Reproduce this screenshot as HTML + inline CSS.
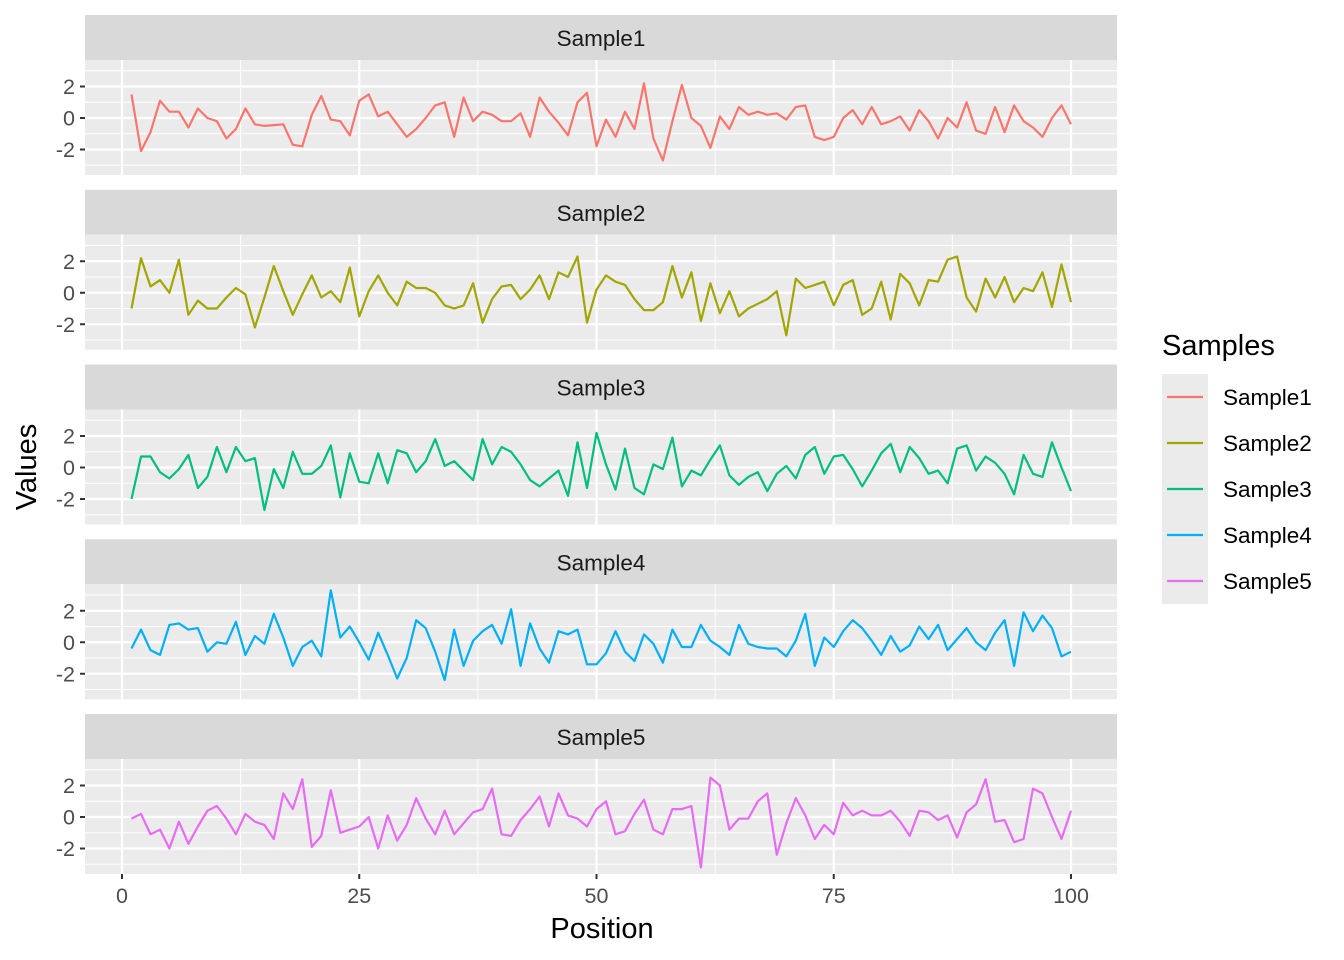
<!DOCTYPE html>
<html><head><meta charset="utf-8"><style>
body{margin:0;background:#fff;}
svg{display:block;font-family:"Liberation Sans",Arial,sans-serif;}
</style></head><body>
<svg id="s" width="1344" height="960" xmlns="http://www.w3.org/2000/svg"></svg>
<script>
const D=[
[1.5,-2.1,-0.9,1.1,0.4,0.4,-0.6,0.6,0,-0.2,-1.3,-0.7,0.6,-0.4,-0.5,-0.45,-0.4,-1.7,-1.8,0.2,1.4,-0.1,-0.2,-1.1,1.1,1.5,0.1,0.4,-0.4,-1.2,-0.7,0,0.8,1.0,-1.2,1.3,-0.2,0.4,0.2,-0.2,-0.2,0.3,-1.2,1.3,0.4,-0.3,-1.1,1.0,1.6,-1.8,-0.1,-1.2,0.4,-0.7,2.2,-1.3,-2.7,-0.2,2.1,0,-0.5,-1.9,0.1,-0.7,0.7,0.2,0.4,0.2,0.3,-0.1,0.7,0.8,-1.2,-1.4,-1.2,0,0.5,-0.4,0.7,-0.4,-0.2,0.1,-0.8,0.5,-0.2,-1.3,0,-0.6,1.0,-0.8,-1.0,0.7,-0.9,0.8,-0.2,-0.6,-1.2,0,0.8,-0.4],
[-1,2.2,0.4,0.8,0,2.1,-1.4,-0.5,-1,-1,-0.3,0.3,-0.1,-2.2,-0.3,1.7,0.1,-1.4,-0.1,1.1,-0.3,0.1,-0.6,1.6,-1.5,0.1,1.1,0,-0.8,0.7,0.3,0.3,0,-0.8,-1,-0.8,0.6,-1.9,-0.4,0.4,0.5,-0.4,0.2,1.1,-0.4,1.3,1,2.3,-1.9,0.2,1.1,0.7,0.5,-0.4,-1.1,-1.1,-0.6,1.7,-0.3,1.3,-1.8,0.6,-1.3,0.1,-1.5,-1,-0.7,-0.4,0.1,-2.7,0.9,0.3,0.5,0.7,-0.8,0.5,0.8,-1.4,-1,0.7,-1.7,1.2,0.6,-0.8,0.8,0.7,2.1,2.3,-0.3,-1.2,0.9,-0.3,1,-0.6,0.3,0.1,1.3,-0.9,1.8,-0.6],
[-2,0.7,0.7,-0.3,-0.7,-0.1,0.8,-1.3,-0.6,1.3,-0.3,1.3,0.4,0.6,-2.7,-0.1,-1.3,1,-0.4,-0.4,0.1,1.4,-1.9,0.9,-0.9,-1,0.9,-1,1.1,0.9,-0.3,0.4,1.8,0.1,0.4,-0.2,-0.8,1.8,0.2,1.3,1,0.2,-0.8,-1.2,-0.7,-0.2,-1.8,1.6,-1.3,2.2,0.2,-1.4,1.2,-1.3,-1.7,0.2,-0.1,1.9,-1.2,-0.2,-0.5,0.5,1.4,-0.5,-1.1,-0.6,-0.3,-1.5,-0.4,0.1,-0.7,0.8,1.3,-0.4,0.7,0.8,-0.1,-1.2,-0.2,0.9,1.5,-0.3,1.3,0.6,-0.4,-0.2,-1,1.2,1.4,-0.2,0.7,0.3,-0.4,-1.7,0.8,-0.4,-0.6,1.6,0,-1.5],
[-0.4,0.8,-0.5,-0.8,1.1,1.2,0.8,0.9,-0.6,0,-0.1,1.3,-0.8,0.4,-0.1,1.8,0.3,-1.5,-0.3,0.1,-0.9,3.3,0.3,1,0,-1.1,0.6,-0.8,-2.3,-1,1.4,0.9,-0.6,-2.4,0.8,-1.5,0.1,0.7,1.1,-0.1,2.1,-1.5,1.2,-0.4,-1.3,0.7,0.5,0.8,-1.4,-1.4,-0.7,0.7,-0.6,-1.2,0.5,-0.1,-1.3,0.8,-0.3,-0.3,1.1,0.1,-0.3,-0.8,1.1,-0.1,-0.3,-0.4,-0.4,-0.9,0.1,1.8,-1.5,0.3,-0.3,0.7,1.4,0.9,0.1,-0.8,0.4,-0.6,-0.2,1,0.2,1.1,-0.5,0.2,0.9,0,-0.5,0.6,1.4,-1.5,1.9,0.7,1.7,0.9,-0.9,-0.6],
[-0.1,0.2,-1.1,-0.8,-2,-0.3,-1.7,-0.6,0.4,0.7,-0.1,-1.1,0.2,-0.3,-0.5,-1.4,1.5,0.5,2.4,-1.9,-1.2,1.7,-1,-0.8,-0.6,0,-2,0.1,-1.5,-0.5,1.2,-0.1,-1.1,0.4,-1.1,-0.4,0.3,0.5,1.8,-1.1,-1.2,-0.2,0.5,1.3,-0.6,1.5,0.1,-0.1,-0.6,0.5,1,-1.1,-0.9,0.2,1.1,-0.8,-1.1,0.5,0.5,0.7,-3.2,2.5,2,-0.8,-0.1,-0.1,1,1.5,-2.4,-0.4,1.2,0.1,-1.4,-0.5,-1.1,0.9,0.1,0.4,0.1,0.1,0.4,-0.3,-1.2,0.4,0.3,-0.2,0.1,-1.3,0.3,0.8,2.4,-0.3,-0.2,-1.6,-1.4,1.8,1.5,0,-1.4,0.4]];
const C=["#F8766D","#A3A500","#00BF7D","#00B0F6","#E76BF3"];
let h='';
const X=v=>122+9.49*v, L=85,R=1117,U=15.75;
for(let p=0;p<5;p++){
 const st=15+p*174.75, top=st+45, bot=top+115, z=top+58;
 h+=`<rect x="${L}" y="${st}" width="${R-L}" height="45" fill="#D9D9D9"/>`;
 h+=`<text x="601" y="${st+31}" font-size="22.5" text-anchor="middle" fill="#1A1A1A">Sample${p+1}</text>`;
 h+=`<rect x="${L}" y="${top}" width="${R-L}" height="115" fill="#EBEBEB"/>`;
 for(const v of [-3,-1,1,3]) h+=`<line x1="${L}" x2="${R}" y1="${z-v*U}" y2="${z-v*U}" stroke="#fff" stroke-width="1"/>`;
 for(const v of [12.5,37.5,62.5,87.5]) h+=`<line x1="${X(v)}" x2="${X(v)}" y1="${top}" y2="${bot}" stroke="#fff" stroke-width="1"/>`;
 for(const v of [-2,0,2]) {h+=`<line x1="${L}" x2="${R}" y1="${z-v*U}" y2="${z-v*U}" stroke="#fff" stroke-width="2.2"/>`;
  h+=`<line x1="80" x2="85" y1="${z-v*U}" y2="${z-v*U}" stroke="#333" stroke-width="2"/>`;
  h+=`<text x="75" y="${z-v*U+7.5}" font-size="21.5" text-anchor="end" fill="#4D4D4D">${v<0?'-'+(-v):v}</text>`;}
 for(const v of [0,25,50,75,100]) h+=`<line x1="${X(v)}" x2="${X(v)}" y1="${top}" y2="${bot}" stroke="#fff" stroke-width="2.2"/>`;
 h+=`<polyline fill="none" stroke="${C[p]}" stroke-width="2.2" stroke-linejoin="round" points="${D[p].map((v,i)=>X(i+1).toFixed(1)+','+(z-v*U).toFixed(1)).join(' ')}"/>`;
}
for(const v of [0,25,50,75,100]){h+=`<line x1="${X(v)}" x2="${X(v)}" y1="874" y2="879" stroke="#333" stroke-width="2"/>`;
 h+=`<text x="${X(v)}" y="903" font-size="21.5" text-anchor="middle" fill="#4D4D4D">${v}</text>`;}
h+=`<text x="602" y="938" font-size="29" text-anchor="middle" fill="#000">Position</text>`;
h+=`<text transform="translate(36,467) rotate(-90)" font-size="29" text-anchor="middle" fill="#000">Values</text>`;
h+=`<text x="1162" y="355" font-size="29" fill="#000">Samples</text>`;
h+=`<rect x="1162" y="374" width="46" height="230" fill="#EBEBEB"/>`;
for(let i=0;i<5;i++){const y=397+46*i;h+=`<line x1="1167" x2="1203" y1="${y}" y2="${y}" stroke="${C[i]}" stroke-width="2.2"/>`;
 h+=`<text x="1223" y="${y+8}" font-size="22.5" fill="#000">Sample${i+1}</text>`;}
document.getElementById('s').innerHTML=h;
</script>
</body></html>
